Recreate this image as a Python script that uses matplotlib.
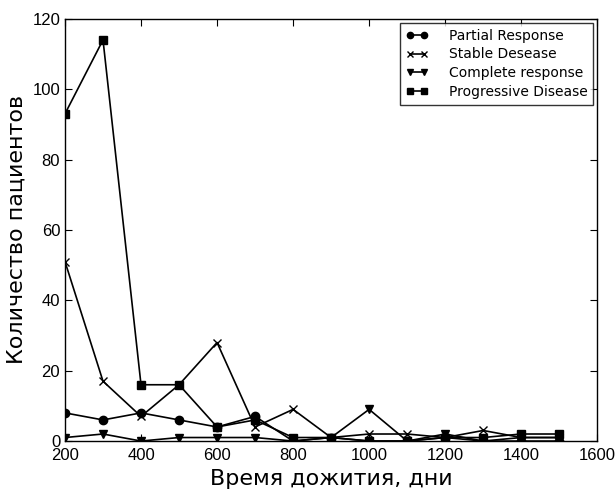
import matplotlib
matplotlib.use('Agg')
import matplotlib.pyplot as plt

days = [200, 300, 400, 500, 600, 700, 800, 900, 1000, 1100, 1200, 1300, 1400, 1500]

partial_response = [8, 6, 8, 6, 4, 7, 0, 1, 0, 0, 1, 0, 0, 0]
stable_desease = [51, 17, 7, 16, 28, 4, 9, 1, 2, 2, 1, 3, 1, 1]
complete_response = [1, 2, 0, 1, 1, 1, 0, 1, 9, 0, 2, 0, 1, 1]
progressive_disease = [93, 114, 16, 16, 4, 6, 1, 1, 0, 0, 1, 1, 2, 2]

series = [
    (partial_response, 'o', 'Partial Response'),
    (stable_desease, 'x', 'Stable Desease'),
    (complete_response, 'v', 'Complete response'),
    (progressive_disease, 's', 'Progressive Disease'),
]

fig = plt.figure(figsize=(6.16, 4.95), dpi=100)
ax = fig.add_axes([0.1055, 0.109, 0.864, 0.853])

for values, marker, label in series:
    ax.plot(days, values, color='k', marker=marker, markersize=6,
            markeredgecolor='k', markerfacecolor='k', linewidth=1.2, label=label)

ax.set_xlim(200, 1600)
ax.set_ylim(0, 120)
ax.set_xticks(range(200, 1601, 200))
ax.set_yticks(range(0, 121, 20))
ax.tick_params(direction='in', top=True, right=True, length=5, width=0.8,
               labelsize=12)
ax.tick_params(axis='x', pad=5)
for lbl in ax.get_xticklabels() + ax.get_yticklabels():
    lbl.set_fontfamily('Liberation Sans')
for s in ax.spines.values():
    s.set_linewidth(1.0)

ax.set_xlabel('Время дожития, дни', fontsize=16)
ax.set_ylabel('Количество пациентов', fontsize=16)

leg = ax.legend(loc='upper right', numpoints=2, handlelength=1.6,
                handletextpad=1.5, fontsize=10, frameon=True, fancybox=False,
                edgecolor='k', borderaxespad=0.3, labelspacing=0.35,
                markerscale=0.75)
leg.get_frame().set_linewidth(1.0)

fig.savefig('out.png', dpi=100, facecolor='white')
